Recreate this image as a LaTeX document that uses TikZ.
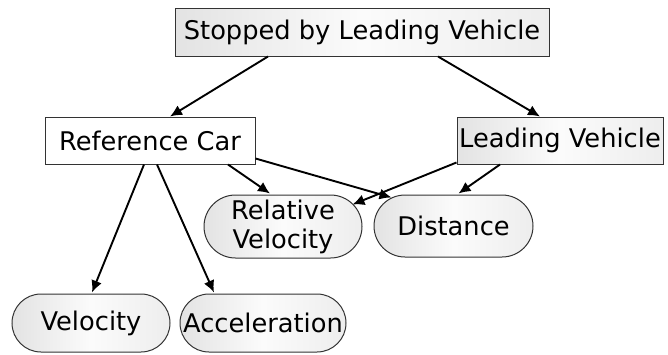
\documentclass[tikz,border=0pt]{standalone}
\usepackage{fontspec}
\setmainfont{DejaVu Sans}
\usetikzlibrary{arrows.meta, shapes.misc}
\begin{document}
\begin{tikzpicture}[x=1pt, y=1pt, align=center, font=\fontsize{25.7}{29}\selectfont]
\tikzstyle{box} = [rectangle, draw=black!80, line width=1pt, inner sep=0pt, left color=gray!22, right color=gray!14, middle color=gray!3]
\tikzstyle{plain} = [rectangle, draw=black!80, line width=1pt, inner sep=0pt, fill=white]
\tikzstyle{oval} = [rounded rectangle, draw=black!80, line width=1pt, inner sep=0pt, left color=gray!22, right color=gray!14, middle color=gray!3]
\tikzstyle{e} = [draw=black, line width=1.9pt, -{Latex[length=12pt, width=11pt]}]

\useasboundingbox (0, 0) rectangle (668, -354);

\node[box, minimum width=374pt, minimum height=48pt] (stop) at (362, -32) {Stopped by Leading Vehicle};
\node[plain, minimum width=210pt, minimum height=47pt] (ref) at (150, -140.5) {Reference Car};
\node[box, minimum width=206pt, minimum height=47pt] (lead) at (560, -140.5) {Leading Vehicle};
\node[oval, minimum width=158pt, minimum height=63pt] (rel) at (283, -226.5) {Relative\\Velocity};
\node[oval, minimum width=159pt, minimum height=62pt] (dist) at (453.5, -226) {Distance};
\node[oval, minimum width=158pt, minimum height=58pt] (vel) at (91, -323) {Velocity};
\node[oval, minimum width=166pt, minimum height=58pt] (acc) at (263, -323) {Acceleration};

\draw[e] ([xshift=-94pt]stop.south) to ([xshift=20pt]ref.north);
\draw[e] ([xshift=76pt]stop.south) to ([xshift=-20pt]lead.north);
\draw[e] ([xshift=78pt]ref.south) to ([xshift=-13pt, yshift=1pt]rel.north);
\draw[e] ([yshift=-18pt]ref.east) to ([xshift=-62pt, yshift=-3pt]dist.north);
\draw[e] ([yshift=2pt]lead.south west) to ([xshift=-10pt, yshift=22pt]rel.east);
\draw[e] ([xshift=-60pt]lead.south) to ([xshift=5pt, yshift=1pt]dist.north);
\draw[e] ([xshift=-6pt]ref.south) to ([xshift=1pt, yshift=1pt]vel.north);
\draw[e] ([xshift=7pt]ref.south) to ([xshift=-49pt, yshift=1pt]acc.north);
\end{tikzpicture}
\end{document}
